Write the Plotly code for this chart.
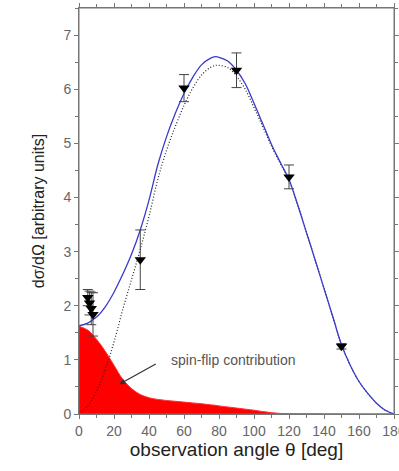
import plotly.graph_objects as go

# ---- data ----
theta_grid = [0, 5, 10, 15, 20, 25, 30, 35, 40, 45, 50, 55, 60, 65, 70, 75, 78, 80,
              85, 90, 95, 100, 105, 110, 115, 120, 125, 130, 135, 140, 145, 150,
              155, 160, 165, 170, 175, 180]
total = [1.63, 1.68, 1.79, 1.98, 2.25, 2.58, 2.95, 3.40, 3.95, 4.60, 5.12, 5.55, 5.92,
         6.22, 6.45, 6.57, 6.60, 6.59, 6.52, 6.35, 6.10, 5.74, 5.36, 4.98, 4.65, 4.33,
         3.86, 3.35, 2.84, 2.32, 1.80, 1.28, 0.90, 0.60, 0.38, 0.20, 0.07, 0.0]
non_spin_flip = [0.0, 0.15, 0.42, 0.82, 1.33, 1.93, 2.48, 3.04, 3.65, 4.33, 4.87, 5.31,
                 5.70, 6.02, 6.26, 6.40, 6.44, 6.44, 6.40, 6.24, 6.00, 5.66, 5.31, 4.95,
                 4.63, 4.32, 3.86, 3.35, 2.84, 2.32, 1.80, 1.28, 0.90, 0.60, 0.38, 0.20,
                 0.07, 0.0]
spin_flip = [1.62, 1.55, 1.38, 1.16, 0.90, 0.64, 0.47, 0.36, 0.30, 0.27, 0.25, 0.235,
             0.22, 0.205, 0.19, 0.17, 0.16, 0.15, 0.13, 0.11, 0.09, 0.07, 0.045, 0.025,
             0.01, 0.005, 0.004, 0.003, 0.003, 0.002, 0.002, 0.002, 0.001, 0.001, 0.0,
             0.0, 0.0, 0.0]

obs_theta = [5, 6, 7, 8, 35, 60, 90, 120, 150]
obs_value = [2.15, 2.05, 1.95, 1.84, 2.85, 6.02, 6.35, 4.38, 1.25]
obs_error = [0.15, 0.22, 0.3, 0.4, 0.55, 0.25, 0.32, 0.22, 0.05]

x_ticks = [0, 20, 40, 60, 80, 100, 120, 140, 160, 180]
x_ticklabels = ["0", "20", "40", "60", "80", "100", "120", "140", "160", "180"]
y_ticks = [0, 1, 2, 3, 4, 5, 6, 7]

fig = go.Figure()

fig.add_trace(go.Scatter(x=theta_grid, y=spin_flip, mode="lines", fill="tozeroy",
                         fillcolor="#ff0000", line=dict(color="#ff3030", width=1, shape="spline"),
                         hoverinfo="skip", showlegend=False))
fig.add_trace(go.Scatter(x=theta_grid, y=non_spin_flip, mode="lines",
                         line=dict(color="#222222", width=1.2, dash="1px,2px", shape="spline"),
                         showlegend=False))
fig.add_trace(go.Scatter(x=theta_grid, y=total, mode="lines",
                         line=dict(color="#3a3acc", width=1.3, shape="spline"),
                         showlegend=False))
fig.add_trace(go.Scatter(x=obs_theta, y=obs_value, mode="markers",
                         marker=dict(symbol="triangle-down", size=10, color="black"),
                         error_y=dict(type="data", array=obs_error, color="#444444",
                                      thickness=1, width=5),
                         showlegend=False))

fig.add_annotation(x=23, y=0.55, ax=38, ay=-21,
                   text="", showarrow=True, arrowhead=2, arrowsize=1, arrowwidth=1.2,
                   arrowcolor="#333333")
fig.add_annotation(x=88, y=1.0, text="spin-flip contribution", showarrow=False,
                   font=dict(size=14, color="#555555", family="Arial, Liberation Sans"))

axis_font = dict(family="Arial, Liberation Sans", size=14, color="#666666")
line_col = "#777777"

# plot frame (styling only)
fig.add_shape(type="rect", xref="paper", yref="paper", x0=0, y0=0, x1=1, y1=1,
              line=dict(color=line_col, width=1), fillcolor="rgba(0,0,0,0)", layer="above")

fig.update_layout(
    width=399, height=471,
    margin=dict(l=79, r=5, t=8, b=57, autoexpand=False),
    paper_bgcolor="white", plot_bgcolor="white",
    xaxis=dict(range=[0, 180], tickvals=x_ticks, ticktext=x_ticklabels, automargin=False,
               ticklabeloverflow="allow",
               ticks="outside", ticklen=4, tickcolor=line_col, tickfont=axis_font,
               minor=dict(dtick=10, tick0=0, ticks="outside", ticklen=3, tickcolor=line_col),
               showline=True, mirror="ticks", linecolor=line_col, linewidth=1,
               showgrid=False, zeroline=False,
               title=dict(text="observation angle θ [deg]", standoff=4,
                          font=dict(family="Arial, Liberation Sans", size=19, color="#222222"))),
    yaxis=dict(range=[0, 7.5], tickvals=y_ticks, ticks="outside", ticklen=4, automargin=False,
               tickcolor=line_col, tickfont=axis_font,
               minor=dict(dtick=0.5, tick0=0, ticks="outside", ticklen=3, tickcolor=line_col),
               showline=True, mirror="ticks", linecolor=line_col, linewidth=1,
               showgrid=False, zeroline=False,
               title=dict(text="dσ/dΩ [arbitrary units]", standoff=14,
                          font=dict(family="Arial, Liberation Sans", size=16, color="#222222"))),
)

fig.write_html("out.html", config={"displayModeBar": False},
               post_script="document.body.style.margin='0px';")
